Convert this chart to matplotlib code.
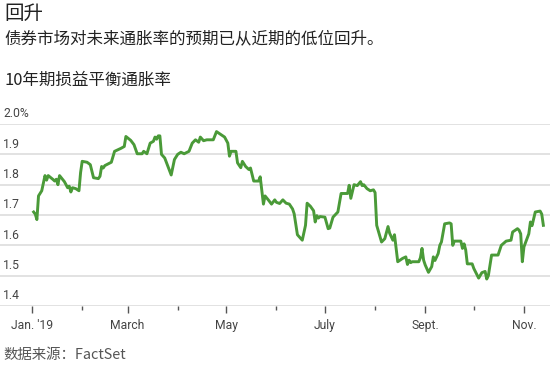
import matplotlib
matplotlib.use("Agg")
import matplotlib.pyplot as plt
import pandas as pd

plt.rcParams['font.family'] = ['Noto Sans CJK SC', 'DejaVu Sans']

# data (10-year breakeven inflation, %)
dates = [
    "2019-01-02", "2019-01-03", "2019-01-04", "2019-01-05", "2019-01-07", "2019-01-09",
    "2019-01-10", "2019-01-11", "2019-01-14", "2019-01-15", "2019-01-16", "2019-01-17",
    "2019-01-18", "2019-01-21", "2019-01-23", "2019-01-24", "2019-01-25", "2019-01-26",
    "2019-01-28", "2019-01-30", "2019-01-31", "2019-02-01", "2019-02-04", "2019-02-06",
    "2019-02-08", "2019-02-11", "2019-02-12", "2019-02-13", "2019-02-14", "2019-02-15",
    "2019-02-19", "2019-02-21", "2019-02-25", "2019-02-27", "2019-02-28", "2019-03-03",
    "2019-03-05", "2019-03-07", "2019-03-10", "2019-03-11", "2019-03-13", "2019-03-15",
    "2019-03-17", "2019-03-18", "2019-03-19", "2019-03-20", "2019-03-21", "2019-03-22",
    "2019-03-24", "2019-03-26", "2019-03-28", "2019-03-30", "2019-04-01", "2019-04-03",
    "2019-04-05", "2019-04-08", "2019-04-10", "2019-04-12", "2019-04-14", "2019-04-15",
    "2019-04-17", "2019-04-19", "2019-04-23", "2019-04-25", "2019-04-28", "2019-04-30",
    "2019-05-02", "2019-05-03", "2019-05-04", "2019-05-07", "2019-05-08", "2019-05-10",
    "2019-05-11", "2019-05-13", "2019-05-15", "2019-05-16", "2019-05-17", "2019-05-18",
    "2019-05-21", "2019-05-22", "2019-05-24", "2019-05-25", "2019-05-27", "2019-05-29",
    "2019-05-31", "2019-06-01", "2019-06-03", "2019-06-05", "2019-06-07", "2019-06-09",
    "2019-06-11", "2019-06-12", "2019-06-14", "2019-06-17", "2019-06-19", "2019-06-20",
    "2019-06-22", "2019-06-24", "2019-06-25", "2019-06-26", "2019-06-27", "2019-06-28",
    "2019-07-01", "2019-07-03", "2019-07-04", "2019-07-06", "2019-07-09", "2019-07-11",
    "2019-07-15", "2019-07-16", "2019-07-17", "2019-07-19", "2019-07-21", "2019-07-23",
    "2019-07-24", "2019-07-25", "2019-07-27", "2019-07-29", "2019-07-31", "2019-08-01",
    "2019-08-02", "2019-08-05", "2019-08-07", "2019-08-09", "2019-08-10", "2019-08-12",
    "2019-08-13", "2019-08-15", "2019-08-18", "2019-08-20", "2019-08-21", "2019-08-22",
    "2019-08-23", "2019-08-24", "2019-08-28", "2019-08-29", "2019-08-30", "2019-08-31",
    "2019-09-01", "2019-09-03", "2019-09-05", "2019-09-06", "2019-09-07", "2019-09-09",
    "2019-09-10", "2019-09-11", "2019-09-13", "2019-09-16", "2019-09-17", "2019-09-18",
    "2019-09-19", "2019-09-22", "2019-09-23", "2019-09-24", "2019-09-25", "2019-09-26",
    "2019-09-27", "2019-09-30", "2019-10-01", "2019-10-04", "2019-10-06", "2019-10-08",
    "2019-10-09", "2019-10-10", "2019-10-12", "2019-10-16", "2019-10-18", "2019-10-21",
    "2019-10-24", "2019-10-25", "2019-10-28", "2019-10-29", "2019-10-30", "2019-10-31",
    "2019-11-01", "2019-11-04", "2019-11-05", "2019-11-06", "2019-11-08", "2019-11-11",
    "2019-11-12", "2019-11-13",
]
values = [
    1.710, 1.703, 1.685, 1.763, 1.780, 1.830,
    1.815, 1.830, 1.817, 1.812, 1.818, 1.800,
    1.830, 1.810, 1.790, 1.795, 1.776, 1.790,
    1.787, 1.780, 1.840, 1.877, 1.874, 1.866,
    1.823, 1.820, 1.828, 1.860, 1.855, 1.863,
    1.874, 1.910, 1.920, 1.926, 1.959, 1.946,
    1.932, 1.902, 1.902, 1.910, 1.902, 1.937,
    1.943, 1.957, 1.950, 1.961, 1.961, 1.900,
    1.888, 1.860, 1.832, 1.883, 1.900, 1.907,
    1.902, 1.910, 1.937, 1.948, 1.940, 1.957,
    1.945, 1.948, 1.948, 1.975, 1.964, 1.957,
    1.937, 1.894, 1.910, 1.910, 1.872, 1.856,
    1.877, 1.860, 1.850, 1.855, 1.834, 1.812,
    1.812, 1.826, 1.736, 1.763, 1.750, 1.736,
    1.750, 1.742, 1.738, 1.750, 1.739, 1.736,
    1.720, 1.704, 1.635, 1.617, 1.666, 1.739,
    1.729, 1.714, 1.677, 1.698, 1.690, 1.695,
    1.693, 1.655, 1.657, 1.693, 1.710, 1.771,
    1.771, 1.798, 1.755, 1.800, 1.797, 1.810,
    1.797, 1.800, 1.787, 1.780, 1.783, 1.774,
    1.666, 1.611, 1.622, 1.662, 1.640, 1.617,
    1.635, 1.546, 1.557, 1.562, 1.537, 1.551,
    1.543, 1.546, 1.546, 1.559, 1.590, 1.551,
    1.535, 1.511, 1.530, 1.562, 1.550, 1.573,
    1.600, 1.611, 1.671, 1.674, 1.671, 1.600,
    1.614, 1.614, 1.614, 1.590, 1.605, 1.585,
    1.539, 1.539, 1.524, 1.492, 1.510, 1.514,
    1.489, 1.500, 1.568, 1.568, 1.600, 1.614,
    1.617, 1.644, 1.655, 1.650, 1.638, 1.546,
    1.595, 1.638, 1.677, 1.665, 1.710, 1.713,
    1.703, 1.666,
]
y_ticks = [1.4, 1.5, 1.6, 1.7, 1.8, 1.9, 2.0]
y_labels = ["1.4", "1.5", "1.6", "1.7", "1.8", "1.9", "2.0%"]
x_major = ["2019-01-01", "2019-03-01", "2019-05-01", "2019-07-01", "2019-09-01", "2019-11-01"]
x_labels = ["Jan. '19", "March", "May", "July", "Sept.", "Nov."]
x_minor = ["2019-02-01", "2019-04-01", "2019-06-01", "2019-08-01", "2019-10-01"]

x = pd.to_datetime(dates)

fig = plt.figure(figsize=(5.5, 3.65), dpi=100)
ax = fig.add_axes([0.0, 0.1616, 1.0, 0.4986])

# grid lines across the full width
for v in y_ticks:
    ax.axhline(v, color='#dddddd', lw=1.2, zorder=1)

ax.plot(x, values, color='#4a9a38', lw=2.1, zorder=3, solid_joinstyle='round')

start = pd.Timestamp("2019-01-01")
ax.set_xlim(start - pd.Timedelta(days=19.8), start + pd.Timedelta(days=320.1))
ax.set_ylim(1.4, 2.0)

for s in ax.spines.values():
    s.set_visible(False)

ax.set_yticks([])
for v, lab in zip(y_ticks, y_labels):
    ax.text(0.006, v + 0.012, lab, transform=ax.get_yaxis_transform(),
            fontsize=8.7, color='#444444', ha='left', va='bottom',
            family=['Roboto', 'DejaVu Sans'])

ax.set_xticks(pd.to_datetime(x_major))
ax.set_xticklabels(x_labels, fontsize=8.7, color='#444444', family=['Roboto', 'DejaVu Sans'])
ax.set_xticks(pd.to_datetime(x_minor), minor=True)
ax.tick_params(axis='x', which='major', length=5, width=1, color='#555555', pad=4)
ax.tick_params(axis='x', which='minor', length=3, width=1, color='#555555')

fig.text(0.008, 0.962, "回升", fontsize=14, color='#222222', va='center', ha='left')
fig.text(0.008, 0.893, "债券市场对未来通胀率的预期已从近期的低位回升。",
         fontsize=11.9, color='#222222', va='center', ha='left')
fig.text(0.008, 0.78, "10年期损益平衡通胀率", fontsize=11.9, color='#222222',
         va='center', ha='left')
fig.text(0.006, 0.028, "数据来源：FactSet", fontsize=10.4, color='#555555',
         va='center', ha='left')

fig.savefig("out.png", dpi=100)
